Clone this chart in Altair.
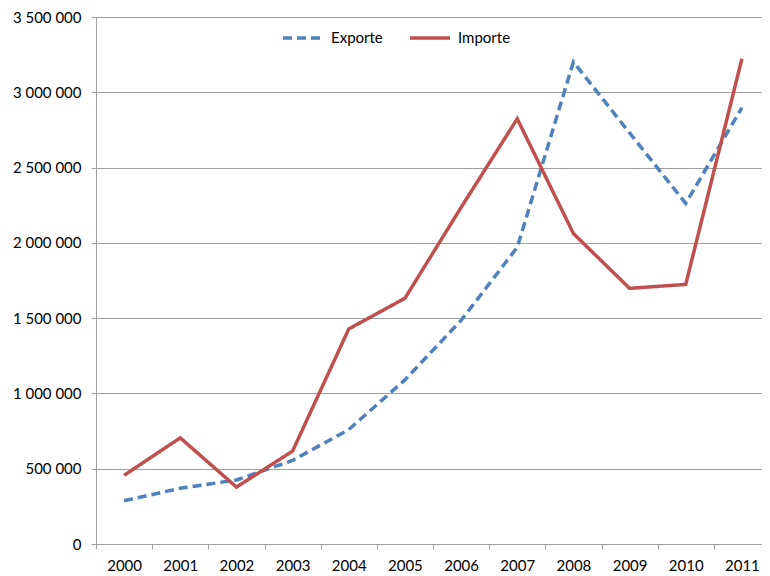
import altair as alt
import pandas as pd

years = ["2000", "2001", "2002", "2003", "2004", "2005",
         "2006", "2007", "2008", "2009", "2010", "2011"]
exporte = [287000, 370000, 425000, 555000, 760000, 1090000,
           1485000, 1970000, 3202000, 2730000, 2262000, 2898000]
importe = [456000, 705000, 378000, 617000, 1428000, 1632000,
           2235000, 2824000, 2062000, 1698000, 1724000, 3223000]
series = ["Exporte", "Importe"]
y_ticks = [0, 500000, 1000000, 1500000, 2000000, 2500000, 3000000, 3500000]

rows = []
for name, vals in zip(series, [exporte, importe]):
    for yr, v in zip(years, vals):
        rows.append({"Jahr": yr, "Wert": v, "Serie": name})
df = pd.DataFrame(rows)

FONT = "Lato"
GRID = "#a0a0a0"

legend_props = dict(title=None, orient="none", legendX=185, legendY=-1,
                    direction="horizontal", symbolType="stroke",
                    symbolSize=1600, symbolStrokeWidth=3.5,
                    labelFontSize=15, labelFont=FONT,
                    labelColor="#000000", labelOffset=6,
                    columnPadding=20)

chart = alt.Chart(df).mark_line(strokeWidth=3.5).encode(
    x=alt.X("Jahr:O",
            scale=alt.Scale(type="band", paddingInner=0, paddingOuter=0),
            axis=alt.Axis(title=None, labelAngle=0, tickBand="extent", tickSize=5,
                          tickColor=GRID, domainColor=GRID, labelPadding=9,
                          labelFontSize=15, labelFont=FONT, labelColor="#000000",
                          grid=False)),
    y=alt.Y("Wert:Q",
            scale=alt.Scale(domain=[0, 3500000], nice=False),
            axis=alt.Axis(title=None, values=y_ticks, tickSize=5, tickColor=GRID,
                          domainColor=GRID, gridColor=GRID, grid=True,
                          labelPadding=10, labelFontSize=15, labelFont=FONT,
                          labelColor="#000000",
                          labelExpr="replace(format(datum.value, ','), regexp(',', 'g'), ' ')")),
    color=alt.Color("Serie:N",
                    scale=alt.Scale(domain=series, range=["#4F81BD", "#C0504D"]),
                    legend=alt.Legend(**legend_props)),
    strokeDash=alt.StrokeDash("Serie:N",
                              scale=alt.Scale(domain=series, range=[[9, 5], [1, 0]]),
                              legend=alt.Legend(**legend_props)),
).properties(
    width=674,
    height=527,
    autosize=alt.AutoSizeParams(type="none"),
    padding={"left": 88, "top": 9, "right": -8, "bottom": 28},
).configure_view(stroke=None)

chart.save("out.html", embed_options={"renderer": "svg", "actions": False})
